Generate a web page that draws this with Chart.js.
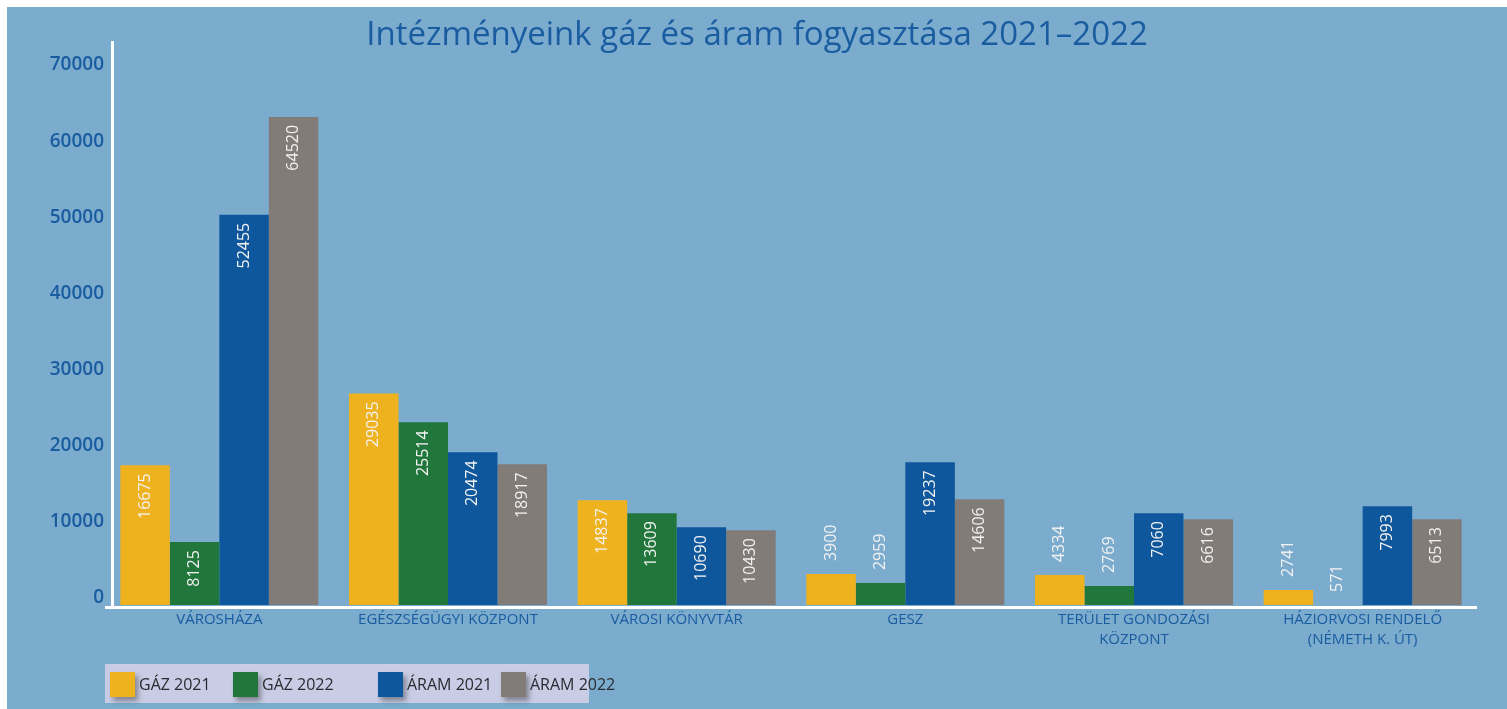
<!DOCTYPE html>
<html>
<head>
<meta charset="utf-8">
<script src="https://cdn.jsdelivr.net/npm/chart.js@4.4.1/dist/chart.umd.min.js"></script>
<style>
    html, body { margin: 0; padding: 0; background: #ffffff; }
    #wrap {
        position: absolute; left: 7px; top: 7px;
        width: 1500px; height: 702px;
        background: #7bacce;
        font-family: "Open Sans", sans-serif;
    }
    #title {
        position: absolute; left: 0; top: 4px; width: 1500px;
        text-align: center; color: #1a5ca0;
        font-size: 33px; line-height: 44px;
    }
    #legend {
        position: absolute; left: 98px; top: 657px;
        width: 484px; height: 39px;
        background: #c8cce4;
    }
    .item { position: absolute; top: 8px; height: 25px; }
    .swatch {
        position: absolute; left: 0; top: 0; width: 25px; height: 25px;
        box-shadow: 3px 4px 5px rgba(0, 0, 0, 0.35);
    }
    .item span {
        position: absolute; left: 29px; top: 0; line-height: 25px;
        white-space: nowrap; font-size: 16px; color: #2a2a30;
    }
    canvas { position: absolute; left: 0; top: 0; }
</style>
</head>
<body>
<div id="wrap">
    <canvas id="chart" width="1500" height="702"></canvas>
    <div id="title">Intézményeink gáz és áram fogyasztása 2021–2022</div>
    <div id="legend"></div>
</div>

<script>
// ---------- data ----------
const categories = [
    ['VÁROSHÁZA'],
    ['EGÉSZSÉGÜGYI KÖZPONT'],
    ['VÁROSI KÖNYVTÁR'],
    ['GESZ'],
    ['TERÜLET GONDOZÁSI', 'KÖZPONT'],
    ['HÁZIORVOSI RENDELŐ', '(NÉMETH K. ÚT)']
];

const seriesNames = ['GÁZ 2021', 'GÁZ 2022', 'ÁRAM 2021', 'ÁRAM 2022'];
const seriesColors = ['#efb21f', '#21773b', '#0f579c', '#827c78'];

// bar heights as drawn in the picture
const gaz2021 = [18350, 27790, 13760, 4060, 3930, 1970];
const gaz2022 = [8260, 23990, 12060, 2880, 2490, 0];
const aram2021 = [51250, 20050, 10220, 18740, 12060, 12980];
const aram2022 = [64100, 18480, 9830, 13890, 11270, 11270];

// numbers printed on the bars
const gaz2021Labels = ['16675', '29035', '14837', '3900', '4334', '2741'];
const gaz2022Labels = ['8125', '25514', '13609', '2959', '2769', '571'];
const aram2021Labels = ['52455', '20474', '10690', '19237', '7060', '7993'];
const aram2022Labels = ['64520', '18917', '10430', '14606', '6616', '6513'];

const yTicks = [0, 10000, 20000, 30000, 40000, 50000, 60000, 70000];
const yMax = 74070;

const seriesValues = [gaz2021, gaz2022, aram2021, aram2022];
const seriesLabels = [gaz2021Labels, gaz2022Labels, aram2021Labels, aram2022Labels];

const textBlue = '#1a5ca0';

// ---------- plugins ----------

// white axis lines: x line spans the plot, y line sits a bit inside
const axisLines = {
    id: 'axisLines',
    afterDraw(chart) {
        const {ctx, chartArea} = chart;
        ctx.save();
        ctx.strokeStyle = '#ffffff';
        ctx.lineWidth = 3;
        ctx.beginPath();
        ctx.moveTo(chartArea.left, chartArea.bottom + 2.5);
        ctx.lineTo(chartArea.right, chartArea.bottom + 2.5);
        ctx.moveTo(chartArea.left + 7.5, chartArea.top);
        ctx.lineTo(chartArea.left + 7.5, chartArea.bottom + 1);
        ctx.stroke();
        ctx.restore();
    }
};

// vertical value labels, inside the bar or just above it
const barLabels = {
    id: 'barLabels',
    afterDatasetsDraw(chart) {
        const ctx = chart.ctx;
        ctx.save();
        ctx.font = '16px "Open Sans", sans-serif';
        ctx.fillStyle = '#f2f2f2';
        ctx.textBaseline = 'middle';
        chart.data.datasets.forEach((ds, di) => {
            const meta = chart.getDatasetMeta(di);
            meta.data.forEach((bar, i) => {
                const text = seriesLabels[di][i];
                const w = ctx.measureText(text).width;
                const h = bar.base - bar.y;
                ctx.save();
                if (h > w + 16) {
                    ctx.translate(bar.x, bar.y + 8);
                    ctx.rotate(-Math.PI / 2);
                    ctx.textAlign = 'right';
                } else {
                    ctx.translate(bar.x, bar.y - 13);
                    ctx.rotate(-Math.PI / 2);
                    ctx.textAlign = 'left';
                }
                ctx.fillText(text, 0, 0);
                ctx.restore();
            });
        });
        ctx.restore();
    }
};

// ---------- chart ----------
new Chart(document.getElementById('chart'), {
    type: 'bar',
    data: {
        labels: categories,
        datasets: seriesNames.map((name, i) => ({
            label: name,
            data: seriesValues[i],
            backgroundColor: seriesColors[i],
            borderWidth: 0,
            categoryPercentage: 0.866,
            barPercentage: 1.0
        }))
    },
    options: {
        responsive: false,
        devicePixelRatio: 1,
        animation: false,
        layout: {padding: {left: 0, right: 30, top: 34, bottom: 0}},
        plugins: {
            legend: {display: false},
            title: {display: false},
            tooltip: {enabled: false}
        },
        scales: {
            x: {
                grid: {display: false, drawTicks: false},
                border: {display: false},
                ticks: {
                    color: textBlue,
                    font: {family: '"Open Sans", sans-serif', size: 15, lineHeight: 1.33},
                    padding: 5,
                    maxRotation: 0,
                    autoSkip: false
                },
                afterFit(scale) {
                    scale.height = 104;
                }
            },
            y: {
                min: 0,
                max: yMax,
                grid: {display: false, drawTicks: false},
                border: {display: false},
                afterBuildTicks(scale) {
                    scale.ticks = yTicks.map(v => ({value: v}));
                },
                ticks: {
                    color: textBlue,
                    font: {family: '"Open Sans", sans-serif', size: 19, weight: '600'},
                    padding: 1,
                    labelOffset: -7,
                    callback: v => String(v)
                },
                afterFit(scale) {
                    scale.width = 98;
                }
            }
        }
    },
    plugins: [axisLines, barLabels]
});

// ---------- legend ----------
const legendX = [5, 128, 273, 396];
const legend = document.getElementById('legend');
seriesNames.forEach((name, i) => {
    const item = document.createElement('div');
    item.className = 'item';
    item.style.left = legendX[i] + 'px';
    item.innerHTML = '<div class="swatch" style="background:' + seriesColors[i] + '"></div><span>' + name + '</span>';
    legend.appendChild(item);
});
</script>
</body>
</html>
